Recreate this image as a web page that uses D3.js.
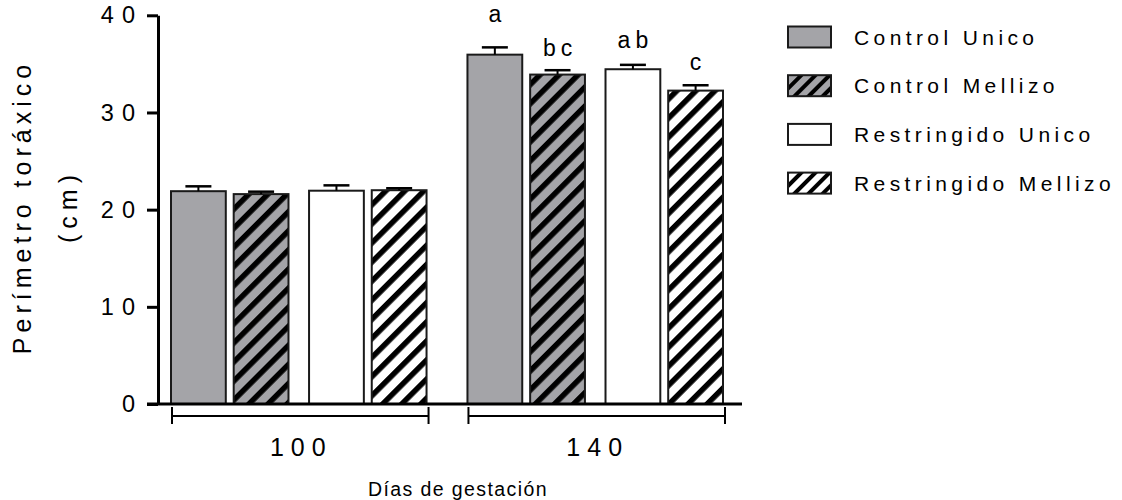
<!DOCTYPE html>
<html>
<head>
<meta charset="utf-8">
<script src="https://cdn.jsdelivr.net/npm/d3@7"></script>
<style>
  body { margin: 0; background: #fff; }
  svg { display: block; font-family: "Liberation Sans", Arial, sans-serif; }
</style>
</head>
<body>
<svg id="chart" width="1122" height="500"></svg>
<script>
// Chart data
const days = ["100", "140"];
const seriesNames = ["Control Unico", "Control Mellizo", "Restringido Unico", "Restringido Mellizo"];
const treatments = ["Control", "Restringido"];
const births = ["Unico", "Mellizo"];

const controlUnico = [21.9, 35.95];
const controlMellizo = [21.6, 33.9];
const restringidoUnico = [21.95, 34.45];
const restringidoMellizo = [22.0, 32.25];

const semControlUnico = [0.5, 0.75];
const semControlMellizo = [0.25, 0.45];
const semRestringidoUnico = [0.55, 0.45];
const semRestringidoMellizo = [0.2, 0.55];

const letters140 = ["a", "bc", "ab", "c"];
const yTicks = [0, 10, 20, 30, 40];

const means = [controlUnico, controlMellizo, restringidoUnico, restringidoMellizo];
const sems = [semControlUnico, semControlMellizo, semRestringidoUnico, semRestringidoMellizo];

// look of each series
const gray = "#a4a4a8";
const styles = [
    { fill: gray, hatch: false, treat: "Control", birth: "Unico" },
    { fill: gray, hatch: true, treat: "Control", birth: "Mellizo" },
    { fill: "#fff", hatch: false, treat: "Restringido", birth: "Unico" },
    { fill: "#fff", hatch: true, treat: "Restringido", birth: "Mellizo" }
];

const svg = d3.select("#chart");

// Scales
const y = d3.scaleLinear().domain([0, 40]).range([404, 15.3]);
const x0 = d3.scaleBand().domain(days).range([171, 723]).paddingInner(0.138);
const xT = d3.scaleBand().domain(treatments).range([0, x0.bandwidth()]).paddingInner(0.149);
const xB = d3.scaleBand().domain(births).range([0, xT.bandwidth()]).paddingInner(0.126);

// Hatch patterns
const defs = svg.append("defs");
function hatch(id, bg, period, thick) {
    const p = defs.append("pattern")
        .attr("id", id)
        .attr("patternUnits", "userSpaceOnUse")
        .attr("width", period)
        .attr("height", period)
        .attr("patternTransform", "rotate(45)");
    p.append("rect").attr("width", period).attr("height", period).attr("fill", bg);
    p.append("rect").attr("width", thick).attr("height", period).attr("fill", "#000");
}
hatch("hatch-gray", gray, 13.5, 5.5);
hatch("hatch-white", "#fff", 13.5, 5.5);
hatch("hatch-gray-s", gray, 10, 4);
hatch("hatch-white-s", "#fff", 10, 4);

function fillOf(s, small) {
    if (!s.hatch) return s.fill;
    const base = s.fill === gray ? "hatch-gray" : "hatch-white";
    return `url(#${base}${small ? "-s" : ""})`;
}

// Build bar records
const bars = [];
days.forEach((day, di) => {
    seriesNames.forEach((name, si) => {
        bars.push({
            day: day,
            si: si,
            mean: means[si][di],
            sem: sems[si][di],
            letter: day === "140" ? letters140[si] : ""
        });
    });
});
const barX = d => x0(d.day) + xT(styles[d.si].treat) + xB(styles[d.si].birth);
const bw = xB.bandwidth();

// Bars
svg.append("g")
    .selectAll("rect")
    .data(bars)
    .enter()
    .append("rect")
    .attr("x", barX)
    .attr("y", d => y(d.mean))
    .attr("width", bw)
    .attr("height", d => y(0) - y(d.mean))
    .attr("fill", d => fillOf(styles[d.si], false))
    .attr("stroke", "#1a1a1a")
    .attr("stroke-width", 2);

// Error bars (upper only)
const err = svg.append("g").attr("stroke", "#000");
err.selectAll(".stem")
    .data(bars)
    .enter()
    .append("line")
    .attr("x1", d => barX(d) + bw / 2)
    .attr("x2", d => barX(d) + bw / 2)
    .attr("y1", d => y(d.mean))
    .attr("y2", d => y(d.mean + d.sem))
    .attr("stroke-width", 2);
err.selectAll(".cap")
    .data(bars)
    .enter()
    .append("line")
    .attr("x1", d => barX(d) + bw / 2 - 13)
    .attr("x2", d => barX(d) + bw / 2 + 13)
    .attr("y1", d => y(d.mean + d.sem))
    .attr("y2", d => y(d.mean + d.sem))
    .attr("stroke-width", 2.5);

// Significance letters
const letterGap = { "a": 25, "bc": 14, "ab": 17, "c": 15 };
svg.append("g")
    .selectAll("text")
    .data(bars.filter(d => d.letter))
    .enter()
    .append("text")
    .attr("x", d => barX(d) + bw / 2 + 2.5)
    .attr("y", d => y(d.mean + d.sem) - letterGap[d.letter])
    .attr("text-anchor", "middle")
    .attr("font-size", 23)
    .attr("letter-spacing", 5)
    .text(d => d.letter);

// Y axis
const yAxis = svg.append("g")
    .attr("transform", "translate(158,0)")
    .call(d3.axisLeft(y).tickValues(yTicks).tickSize(11).tickSizeOuter(0).tickPadding(4));
yAxis.select(".domain").attr("stroke-width", 3);
yAxis.selectAll(".tick line").attr("stroke-width", 3);
yAxis.selectAll(".tick text")
    .attr("font-size", 23.5)
    .attr("letter-spacing", 8)
    .attr("fill", "#000")
    .attr("font-family", "Liberation Sans, Arial, sans-serif");

// Baseline
svg.append("line")
    .attr("x1", 147).attr("x2", 742)
    .attr("y1", y(0)).attr("y2", y(0))
    .attr("stroke", "#000").attr("stroke-width", 3);

// Group brackets and labels
const br = svg.append("g").attr("stroke", "#000").attr("stroke-width", 2);
days.forEach(day => {
    const a = x0(day) + 1;
    const b = x0(day) + x0.bandwidth() + 2;
    br.append("line").attr("x1", a).attr("x2", b).attr("y1", 416).attr("y2", 416);
    br.append("line").attr("x1", a).attr("x2", a).attr("y1", 407).attr("y2", 424);
    br.append("line").attr("x1", b).attr("x2", b).attr("y1", 407).attr("y2", 424);
    svg.append("text")
        .attr("x", (a + b) / 2 + 1)
        .attr("y", 456)
        .attr("text-anchor", "middle")
        .attr("font-size", 25)
        .attr("letter-spacing", 7)
        .text(day);
});

// Axis titles
svg.append("text")
    .attr("x", 458)
    .attr("y", 496)
    .attr("text-anchor", "middle")
    .attr("font-size", 19.5)
    .attr("letter-spacing", 1.4)
    .text("Días de gestación");

svg.append("text")
    .attr("transform", "translate(22,207) rotate(-90)")
    .attr("text-anchor", "middle")
    .attr("dominant-baseline", "central")
    .attr("font-size", 25)
    .attr("letter-spacing", 5)
    .text("Perímetro toráxico");

svg.append("text")
    .attr("transform", "translate(68,206) rotate(-90)")
    .attr("text-anchor", "middle")
    .attr("dominant-baseline", "central")
    .attr("font-size", 25)
    .attr("letter-spacing", 6)
    .text("(cm)");

// Legend
const legend = svg.append("g")
    .selectAll("g")
    .data(seriesNames)
    .enter()
    .append("g")
    .attr("transform", (d, i) => `translate(788, ${37 + i * 48.7})`);
legend.append("rect")
    .attr("x", 0)
    .attr("y", -10.5)
    .attr("width", 43)
    .attr("height", 21)
    .attr("fill", (d, i) => fillOf(styles[i], true))
    .attr("stroke", "#1a1a1a")
    .attr("stroke-width", 2);
legend.append("text")
    .attr("x", 66)
    .attr("y", 7.5)
    .attr("font-size", 21)
    .attr("letter-spacing", 4.4)
    .text(d => d);
</script>
</body>
</html>
